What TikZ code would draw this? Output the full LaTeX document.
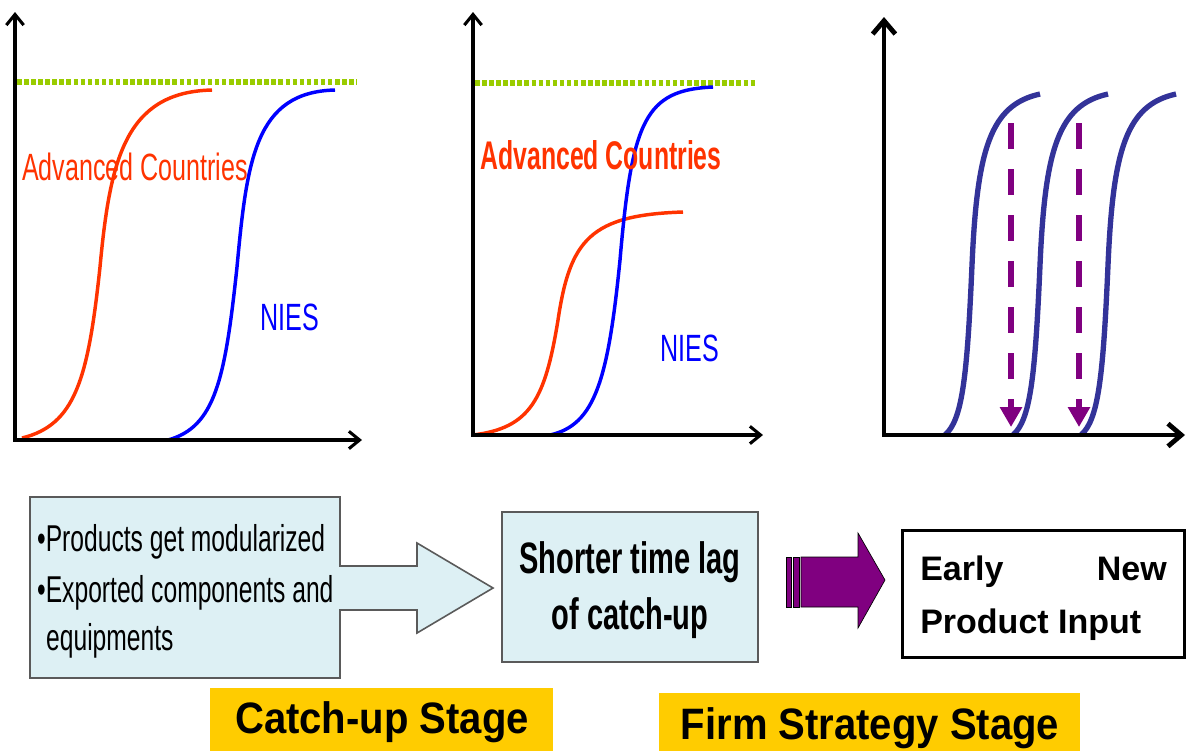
\documentclass[tikz,border=0pt]{standalone}
\usepackage{fontspec}
\setmainfont{Liberation Sans}
\usetikzlibrary{arrows.meta}
\definecolor{ared}{RGB}{255,51,0}
\definecolor{nblue}{RGB}{0,0,255}
\definecolor{sblue}{RGB}{51,51,153}
\definecolor{lgreen}{RGB}{153,204,0}
\definecolor{purp}{RGB}{128,0,128}
\definecolor{boxfill}{RGB}{221,240,244}
\definecolor{boxline}{RGB}{90,90,90}
\definecolor{gold}{RGB}{255,204,0}
\begin{document}
\begin{tikzpicture}[x=0.75pt,y=-0.75pt,
  axisthin/.style={line width=2.3pt,{Straight Barb[length=8pt,width=13pt,line width=2.3pt]}-{Straight Barb[length=8pt,width=13pt,line width=2.3pt]}},
  axisthick/.style={line width=3.6pt,{Straight Barb[length=10pt,width=17pt,line width=3.6pt]}-{Straight Barb[length=10pt,width=17pt,line width=3.6pt]}},
  ceiling/.style={lgreen,line width=3.8pt,dash pattern=on 3.4pt off 1.9pt},
  redcurve/.style={ared,line width=2.6pt},
  bluecurve/.style={nblue,line width=2.6pt},
  scurve/.style={sblue,line width=4pt},
  droparrow/.style={purp,line width=4.5pt,dash pattern=on 19.5pt off 15pt,-{Triangle[length=15pt,width=16pt]}},
  lbl/.style={inner sep=0pt},
  bullettext/.style={lbl,anchor=base west,xscale=0.66,font=\fontsize{28pt}{34pt}\selectfont},
  lagtext/.style={lbl,anchor=base,xscale=0.66,font=\bfseries\fontsize{33pt}{38pt}\selectfont},
  newtext/.style={lbl,font=\bfseries\fontsize{25.5pt}{30pt}\selectfont},
  stagetext/.style={lbl,xscale=0.91,font=\bfseries\fontsize{33pt}{38pt}\selectfont},
  lightbox/.style={fill=boxfill,draw=boxline,line width=1.2pt},
  goldbox/.style={fill=gold,draw=none},
]
\useasboundingbox (0,0) rectangle (1187,751);

% ---------- panel 1 ----------
\coordinate (p1y) at (15,12);
\coordinate (p1o) at (15,440);
\coordinate (p1x) at (362,440);
\coordinate (p1gl) at (17,82);
\coordinate (p1gr) at (357,82);
\draw[ceiling] (p1gl) -- (p1gr);
\draw[redcurve] (22,438) .. controls (75,425) and (88,380) .. (100,267) .. controls (110,160) and (125,92) .. (212,90);
\draw[bluecurve] (168,440) .. controls (215,427) and (225,380) .. (237,267) .. controls (247,160) and (255,92) .. (335,90);
\draw[axisthin] (p1y) -- (p1o) -- (p1x);
\node[lbl,ared,xscale=0.66,font=\fontsize{28.5pt}{34pt}\selectfont] (ac1) at (135,167) {Advanced Countries};
\node[lbl,nblue,xscale=0.66,font=\fontsize{28.5pt}{34pt}\selectfont] (nies1) at (290,317) {NIES};

% ---------- panel 2 ----------
\coordinate (p2y) at (473,12);
\coordinate (p2o) at (473,435);
\coordinate (p2x) at (763,435);
\coordinate (p2gl) at (475,83);
\coordinate (p2gr) at (757,83);
\draw[ceiling] (p2gl) -- (p2gr);
\draw[redcurve] (473,435) .. controls (530,428) and (545,400) .. (558,320) .. controls (570,240) and (590,215) .. (683,212);
\draw[bluecurve] (550,435) .. controls (595,425) and (608,380) .. (620,260) .. controls (632,120) and (645,90) .. (713,87);
\draw[axisthin] (p2y) -- (p2o) -- (p2x);
\node[lbl,ared,xscale=0.62,font=\bfseries\fontsize{30pt}{36pt}\selectfont] (ac2) at (601,155) {Advanced Countries};
\node[lbl,nblue,xscale=0.66,font=\fontsize{28.5pt}{34pt}\selectfont] (nies2) at (690,348) {NIES};

% ---------- panel 3 ----------
\coordinate (p3y) at (884,17);
\coordinate (p3o) at (884,435);
\coordinate (p3x) at (1185,435);
\foreach \s in {0,68,136}{
  \draw[scurve,shift={(\s,0)}] (945,435) .. controls (962,420) and (967,380) .. (972,265) .. controls (977,150) and (990,105) .. (1040,94);
}
\coordinate (d1s) at (1011,123);
\coordinate (d1e) at (1011,427);
\coordinate (d2s) at (1079,123);
\coordinate (d2e) at (1079,427);
\draw[droparrow] (d1s) -- (d1e);
\draw[droparrow] (d2s) -- (d2e);
\draw[axisthick] (p3y) -- (p3o) -- (p3x);

% ---------- bottom row ----------
\draw[lightbox] (30,497) -- (340,497) -- (340,566) -- (417,566) -- (417,543) -- (493,588) -- (417,633) -- (417,610) -- (340,610) -- (340,678) -- (30,678) -- cycle;
\node[bullettext] (drv1) at (37,551) {•Products get modularized};
\node[bullettext] (drv2) at (37,602) {•Exported components and};
\node[bullettext] (drv3) at (46,650) {equipments};

\node[lightbox,minimum width=256*0.75pt,minimum height=150*0.75pt,inner sep=0pt] (lagbox) at (630,587) {};
\node[lagtext] (lag1) at (630,573) {Shorter time lag};
\node[lagtext] (lag2) at (630,629) {of catch-up};

% purple block arrow
\fill[purp,draw=black,line width=0.5pt] (786,557) rectangle (791,607);
\fill[purp,draw=black,line width=0.5pt] (793,557) rectangle (799,607);
\fill[purp,draw=black,line width=0.5pt] (801,557) -- (858,557) -- (858,533) -- (885,580) -- (858,628) -- (858,607) -- (801,607) -- cycle;

\node[draw=black,line width=2.25pt,minimum width=282*0.75pt,minimum height=127*0.75pt,inner sep=0pt] (newbox) at (1043,593.5) {};
\node[newtext,anchor=base west] (early) at (920,580) {Early};
\node[newtext,anchor=base east] (new) at (1167,580) {New};
\node[newtext,anchor=base west] (pinput) at (920,633) {Product Input};

% stage labels
\fill[goldbox] (210,688) rectangle (553,751);
\fill[goldbox] (659,693) rectangle (1080,751);
\node[stagetext] (catchup) at (382,722) {Catch-up Stage};
\node[stagetext] (firm) at (870,728) {Firm Strategy Stage};
\end{tikzpicture}
\end{document}
